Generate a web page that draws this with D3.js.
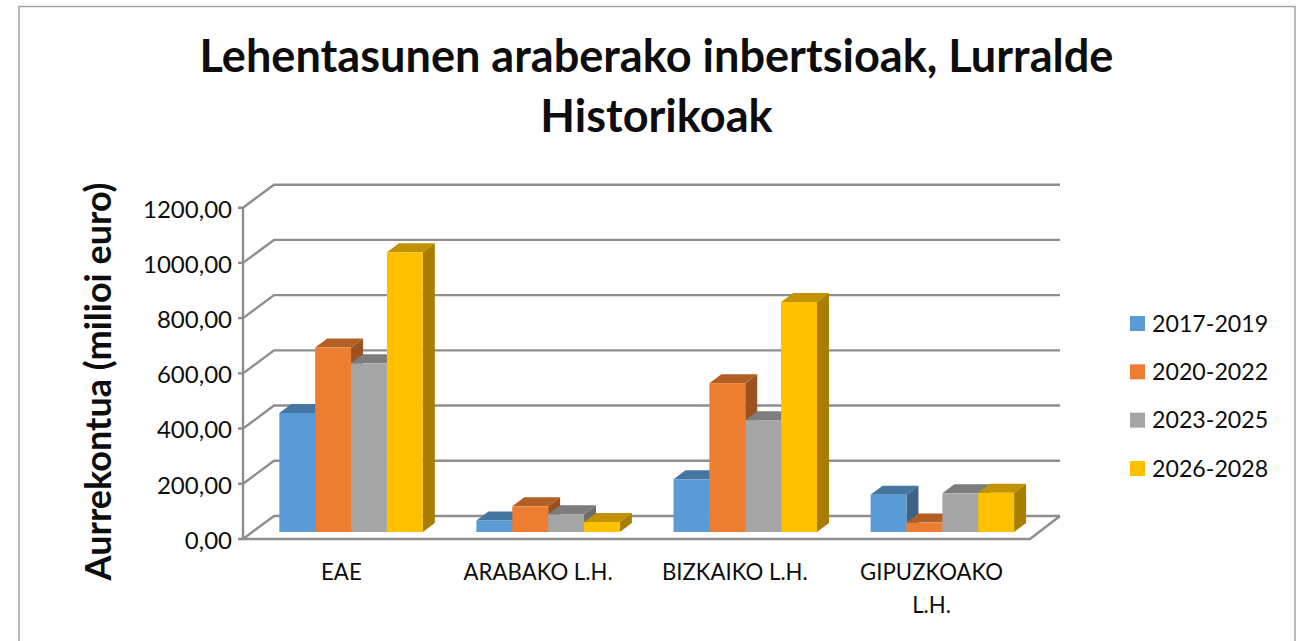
<!DOCTYPE html>
<html><head><meta charset="utf-8">
<script src="https://cdn.jsdelivr.net/npm/d3@7"></script>
<style>html,body{margin:0;padding:0;background:#fff;overflow:hidden}svg{display:block}text{font-family:Lato,Carlito,sans-serif;fill:#0d0d0d}</style>
</head><body><svg id="c" width="1313" height="641"></svg>
<script>
const categories = [["EAE"],["ARABAKO L.H."],["BIZKAIKO L.H."],["GIPUZKOAKO","L.H."]];
const seriesNames = ["2017-2019","2020-2022","2023-2025","2026-2028"];
const s2017 = [431,42,191,135];
const s2020 = [668,93,539,34];
const s2023 = [611,64,405,140];
const s2026 = [1013,36,833,142];
const yTicks = [0,200,400,600,800,1000,1200];
const titleLines = ["Lehentasunen araberako inbertsioak, Lurralde","Historikoak"];
const yTitle = "Aurrekontua (milioi euro)";
const frontColors = ["#5B9BD5","#ED7D31","#A5A5A5","#FFC000"];
const topColors = ["#4575A1","#B35E25","#7D7D7D","#C29200"];
const sideColors = ["#3C648B","#9C5120","#6C6C6C","#A87E00"];

const series = [s2017,s2020,s2023,s2026];
const svg = d3.select("#c");
const gridC = "#8E8E8E";
svg.append("rect").attr("x",19).attr("y",6.5).attr("width",1276).attr("height",680)
  .attr("fill","#fff").attr("stroke","#A3A3A3").attr("stroke-width",1.5);

const y = d3.scaleLinear().domain([0,1200]).range([539,207.7]);
const xAxis = d3.scaleBand().domain(d3.range(4)).range([243,1030]);
const x0 = d3.scaleBand().domain(d3.range(4)).range([252.7,1040.7]).paddingInner(0.272).paddingOuter(0.135);
const x1 = d3.scaleBand().domain(d3.range(4)).range([0,x0.bandwidth()]);
const wallDx = 31, wallDy = -23, barDx = 12, barDy = -9, baseOffset = -7;

// walls and gridlines
const line = (a)=>"M"+a.map(p=>p.join(",")).join("L");
const grid = svg.append("g").attr("fill","none").attr("stroke",gridC).attr("stroke-width",2.4);
yTicks.forEach(t=>{
  const yy=y(t);
  grid.append("path").attr("d",line([[238,yy],[243,yy],[243+wallDx,yy+wallDy],[1030+wallDx-1,yy+wallDy]]));
});
grid.append("path").attr("d",line([[243,y(1200)],[243,y(0)],[1030,y(0)],[1030+wallDx-1,y(0)+wallDy]]));

// bars
const bars = svg.append("g");
categories.forEach((c,i)=>{
  series.forEach((s,k)=>{
    const v=s[i], l=x0(i)+x1(k), r=l+x1.bandwidth(), t=y(v)+baseOffset, b=y(0)+baseOffset;
    const g=bars.append("g");
    g.append("path").attr("fill",sideColors[k]).attr("d",line([[r,t],[r+barDx,t+barDy],[r+barDx,b+barDy],[r,b]])+"Z");
    g.append("path").attr("fill",topColors[k]).attr("d",line([[l,t],[l+barDx,t+barDy],[r+barDx,t+barDy],[r,t]])+"Z");
    g.append("rect").attr("x",l).attr("y",t).attr("width",r-l).attr("height",b-t).attr("fill",frontColors[k]);
  });
});

// y tick labels
svg.append("g").selectAll("text").data(yTicks).join("text")
  .attr("x",232).attr("y",d=>y(d)+1.5).attr("dy","0.35em").attr("text-anchor","end")
  .attr("font-size",24).text(d=>d3.format(".2f")(d).replace(".",","));

// category labels
categories.forEach((c,i)=>{
  c.forEach((ln,j)=>{
    svg.append("text").attr("x",xAxis(i)+xAxis.bandwidth()/2).attr("y",580+j*33)
      .attr("text-anchor","middle").attr("font-size",22.2).text(ln);
  });
});

// title
titleLines.forEach((ln,i)=>{
  svg.append("text").attr("x",656.5).attr("y",72+i*60).attr("text-anchor","middle")
    .attr("font-size",45.1).attr("font-weight",700).text(ln);
});
svg.append("text").attr("transform","translate(111,381.5) rotate(-90)").attr("text-anchor","middle")
  .attr("font-size",36).attr("font-weight",700).text(yTitle);

// legend
const legY = d3.scalePoint().domain(seriesNames).range([323.5,468.5]);
seriesNames.forEach((n,k)=>{
  svg.append("rect").attr("x",1130).attr("y",legY(n)-7.5).attr("width",15).attr("height",15).attr("fill",frontColors[k]);
  svg.append("text").attr("x",1152).attr("y",legY(n)).attr("dy","0.35em").attr("font-size",23.2).text(n);
});
</script></body></html>
